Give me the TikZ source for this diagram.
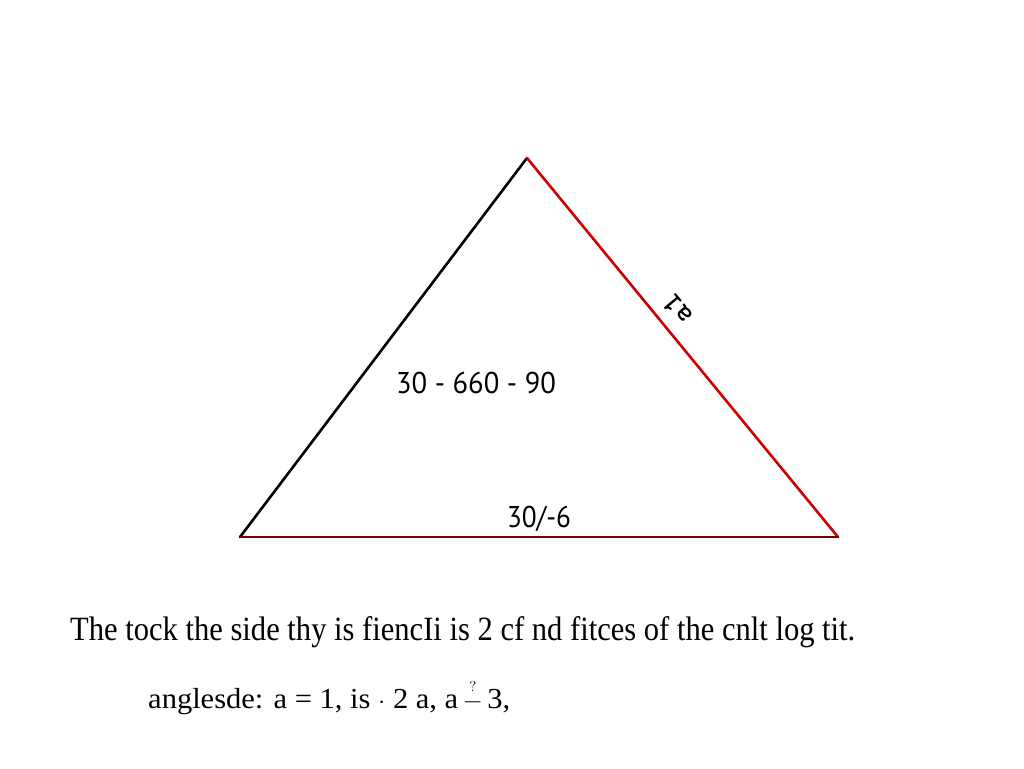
\documentclass[tikz,border=0pt]{standalone}
\usepackage{fontspec}
\setmainfont{Liberation Serif}
\newfontfamily\numfont{PT Sans}
\begin{document}
\begin{tikzpicture}[x=1pt,y=-1pt,
  side/.style={line width=2.6pt, line cap=round},
  lbl/.style={inner sep=0pt, font=\numfont\fontsize{30}{36}\selectfont},
  body/.style={inner sep=0pt, anchor=base west, font=\fontsize{34}{40}\selectfont}]
\useasboundingbox (0,0) rectangle (1024,768);
\fill[white] (0,0) rectangle (1024,768);
\coordinate (A) at (240,537);
\coordinate (B) at (527,158);
\coordinate (C) at (838,537);
\draw[side, black] (A) -- (B);
\draw[side, red!80!black] (B) -- (C);
\draw[side, red!45!black] (C) -- (A);
\node[lbl] (mid) at (476,383) {\resizebox{160pt}{\height}{30 - 660 - 90}};
\node[lbl] (base) at (539,519) {\resizebox{64pt}{\height}{30/-6}};
\node[inner sep=0pt, rotate=130, font=\ttfamily\bfseries\fontsize{30}{34}\selectfont] (a1) at (677,309) {a1};
\node[body] (t1) at (70,640) {\resizebox{785pt}{\height}{The tock the side thy is fiencIi is 2 cf nd fitces of the cnlt log tit.}};
\node[body, font=\fontsize{29}{34}\selectfont] (t2) at (148,708) {\resizebox{362pt}{\height}{anglesde: a = 1, is $\cdot$ 2 a, a$\,\stackrel{\scriptscriptstyle ?}{-}\,$3,}};
\end{tikzpicture}
\end{document}
